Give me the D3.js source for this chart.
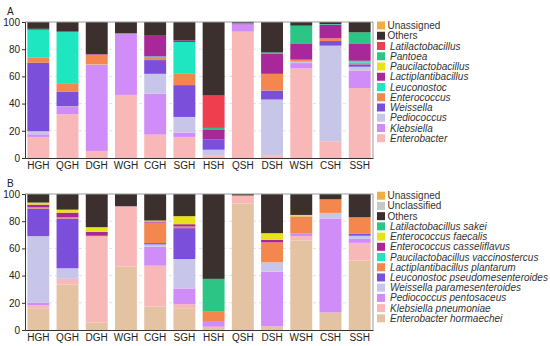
<!DOCTYPE html>
<html><head><meta charset="utf-8">
<script src="https://cdn.jsdelivr.net/npm/d3@7"></script>
<style>body{margin:0;background:#fff}svg{display:block;font-family:"Liberation Sans",Arial,sans-serif}</style>
</head><body><svg id="c" width="550" height="346"></svg>
<script>
const categories = ["HGH","QGH","DGH","WGH","CGH","SGH","HSH","QSH","DSH","WSH","CSH","SSH"];
const yTicks = [0,20,40,60,80,100];

// ---- Panel A (genus level), bottom -> top
const genusNames = ["Enterobacter","Klebsiella","Pediococcus","Weissella","Enterococcus","Leuconostoc","Lactiplantibacillus","Paucilactobacillus","Pantoea","Latilactobacillus","Others","Unassigned"];
const genusItalic = [true,true,true,true,true,true,true,true,true,true,false,false];
const genusColors = ["#F9B8B8","#D08CF7","#C7C6E8","#7B4FD9","#F3874E","#1DE6C0","#A8289A","#E8E21A","#2DC585","#EF3F4F","#3B302D","#F0AE40"];
const Enterobacter        = [15.5,32.2, 5.2,46.4,17.2,15.5, 2.0,92.9, 2.0,65.8,12.3,51.4];
const Klebsiella          = [ 1.9, 5.4,63.3,45.0,30.0, 3.2, 0.0, 5.4, 0.0, 4.0, 0.0,12.7];
const Pediococcus         = [ 2.3, 0.4, 0.3, 0.2,14.7,11.5, 4.1, 0.0,41.0, 1.0,70.3, 3.0];
const Weissella           = [50.3,10.9, 0.0, 0.0,10.1,23.4, 7.7, 0.0, 6.6, 0.0, 3.4, 1.8];
const Enterococcus        = [ 3.7, 6.1, 7.2, 0.0, 1.5, 8.3, 0.0, 0.0,12.3, 1.5, 2.0, 1.2];
const Leuconostoc         = [20.6,37.6, 0.0, 0.0, 1.2,23.4, 0.0, 0.0, 0.0, 0.0, 0.0, 1.4];
const Lactiplantibacillus = [ 0.7, 0.5, 0.4, 0.0,15.2, 1.2, 7.3, 0.7,15.0,12.0,10.0,12.8];
const Paucilactobacillus  = [ 0.0, 0.0, 0.0, 0.0, 0.0, 0.0, 0.0, 0.0, 0.0, 0.0, 0.0, 0.0];
const Pantoea             = [ 0.0, 0.0, 0.0, 0.0, 0.0, 0.0, 1.0, 0.3, 0.7,13.0, 0.5, 8.1];
const Latilactobacillus   = [ 0.0, 0.0, 0.0, 0.0, 0.0, 0.0,23.8, 0.0, 0.0, 0.0, 0.0, 0.0];
const OthersA             = [ 5.0, 6.9,23.6, 8.4,10.1,13.5,54.1, 0.7,22.4, 2.7, 1.5, 7.6];
const UnassignedA         = [ 0.0, 0.0, 0.0, 0.0, 0.0, 0.0, 0.0, 0.0, 0.0, 0.0, 0.0, 0.0];
const seriesA = [Enterobacter,Klebsiella,Pediococcus,Weissella,Enterococcus,Leuconostoc,Lactiplantibacillus,Paucilactobacillus,Pantoea,Latilactobacillus,OthersA,UnassignedA];

// ---- Panel B (species level), bottom -> top
const speciesNames = ["Enterobacter hormaechei","Klebsiella pneumoniae","Pediococcus pentosaceus","Weissella paramesenteroides","Leuconostoc pseudomesenteroides","Lactiplantibacillus plantarum","Paucilactobacillus vaccinostercus","Enterococcus casseliflavus","Enterococcus faecalis","Latilactobacillus sakei","Others","Unclassified","Unassigned"];
const speciesItalic = [true,true,true,true,true,true,true,true,true,true,false,false,false];
const speciesColors = ["#E4C3A2","#F9B8B8","#D08CF7","#C7C6E8","#7B4FD9","#F3874E","#1DE6C0","#A8289A","#E8E21A","#2DC585","#3B302D","#C8C8C8","#F0AE40"];
const E_hormaechei      = [15.6,33.4, 5.6,46.6,17.3,15.6, 2.4,92.9, 2.7,65.9,12.9,51.2];
const K_pneumoniae      = [ 2.7, 4.2,63.2,44.1,30.0, 3.4, 0.0, 5.6, 0.0, 3.1, 0.0,12.9];
const P_pentosaceus     = [ 1.7, 0.3, 0.0, 0.3,13.9,11.5, 4.2, 0.0,40.2, 2.2,69.1, 3.2];
const W_paramesent      = [49.0, 7.5, 0.0, 0.0, 1.7,21.7, 0.0, 0.0, 6.9, 0.0, 4.1, 2.0];
const L_pseudomesent    = [20.3,36.6, 0.0, 0.0, 1.0,22.7, 0.0, 0.0, 0.0, 0.0, 0.0, 1.4];
const L_plantarum       = [ 0.9, 1.0, 0.5, 0.0,15.1, 1.2, 7.3, 0.5,14.6,11.7,10.0,12.2];
const P_vaccinostercus  = [ 0.0, 0.0, 0.0, 0.0, 0.0, 0.0, 0.0, 0.0, 0.0, 0.0, 0.0, 0.0];
const E_casseliflavus   = [ 2.0, 3.3, 2.9, 0.0, 0.8, 1.7, 0.0, 0.0, 1.9, 0.5, 0.0, 0.0];
const E_faecalis        = [ 1.5, 2.2, 3.4, 0.0, 0.7, 5.9, 0.0, 0.0, 4.9, 1.2, 0.0, 0.0];
const L_sakei           = [ 0.0, 0.0, 0.0, 0.0, 0.0, 0.0,23.7, 0.0, 0.0, 0.0, 0.0, 0.0];
const OthersB           = [ 6.3,11.5,24.4, 9.0,19.5,16.3,62.4, 1.0,28.8,15.4, 3.9,17.1];
const UnclassifiedB     = [ 0.0, 0.0, 0.0, 0.0, 0.0, 0.0, 0.0, 0.0, 0.0, 0.0, 0.0, 0.0];
const UnassignedB       = [ 0.0, 0.0, 0.0, 0.0, 0.0, 0.0, 0.0, 0.0, 0.0, 0.0, 0.0, 0.0];
const seriesB = [E_hormaechei,K_pneumoniae,P_pentosaceus,W_paramesent,L_pseudomesent,L_plantarum,P_vaccinostercus,E_casseliflavus,E_faecalis,L_sakei,OthersB,UnclassifiedB,UnassignedB];

const svg = d3.select("#c");
const x = d3.scaleBand().domain(categories).range([25, 373]).paddingInner(0.25).paddingOuter(0.08);

function panel(label, names, italic, colors, series, top, bottom, legendTop, legendStep) {
  const y = d3.scaleLinear().domain([0, 100]).range([bottom, top]);
  const g = svg.append("g");
  g.selectAll("line.grid").data([20,40,60,80]).join("line")
    .attr("x1", 25).attr("x2", 373).attr("y1", d => y(d)).attr("y2", d => y(d))
    .attr("stroke", "#d9d9d9").attr("stroke-width", 0.8).attr("stroke-dasharray", "3,3");
  const rows = categories.map((c, i) => {
    const r = { cat: c };
    names.forEach((n, k) => r[n] = series[k][i]);
    return r;
  });
  const stacked = d3.stack().keys(names)(rows);
  g.selectAll("g.layer").data(stacked).join("g")
    .attr("fill", (d, k) => colors[k])
    .selectAll("rect").data(d => d).join("rect")
    .attr("x", d => x(d.data.cat)).attr("width", x.bandwidth())
    .attr("y", d => y(d[1])).attr("height", d => Math.max(0, y(d[0]) - y(d[1])));
  g.append("path").attr("d", `M25,${top}H373V${bottom}`).attr("fill", "none").attr("stroke", "#9a9a9a").attr("stroke-width", 1);
  const ya = g.append("g").attr("transform", "translate(25,0)")
    .call(d3.axisLeft(y).tickValues(yTicks).tickSize(3).tickPadding(2));
  ya.select(".domain").attr("stroke", "#333");
  ya.selectAll(".tick line").attr("stroke", "#333");
  ya.selectAll("text").attr("font-size", 10).attr("fill", "#222").attr("font-family", "Liberation Sans, Arial, sans-serif");
  const xa = g.append("g").attr("transform", `translate(0,${bottom})`)
    .call(d3.axisBottom(x).tickSize(0).tickPadding(4).tickSizeOuter(0));
  xa.select(".domain").attr("stroke", "#333");
  xa.selectAll("text").attr("font-size", 10).attr("fill", "#222").attr("font-family", "Liberation Sans, Arial, sans-serif");
  g.append("text").attr("x", 7).attr("y", top - 7).attr("font-size", 10).attr("fill", "#222").text(label);
  const order = d3.range(names.length).reverse();
  const lg = g.append("g");
  order.forEach((k, j) => {
    const cy = legendTop + j * legendStep;
    lg.append("rect").attr("x", 377).attr("y", cy - 4).attr("width", 8).attr("height", 8).attr("fill", colors[k]);
    lg.append("text").attr("x", italic[k] ? 390 : 387.5).attr("y", cy + 3.5)
      .attr("font-size", 10).attr("fill", "#333")
      .attr("font-style", italic[k] ? "italic" : "normal").text(names[k]);
  });
}

panel("A", genusNames, genusItalic, genusColors, seriesA, 22, 158, 25.5, 10.25);
panel("B", speciesNames, speciesItalic, speciesColors, seriesB, 194, 330, 195.7, 10.22);
</script></body></html>
